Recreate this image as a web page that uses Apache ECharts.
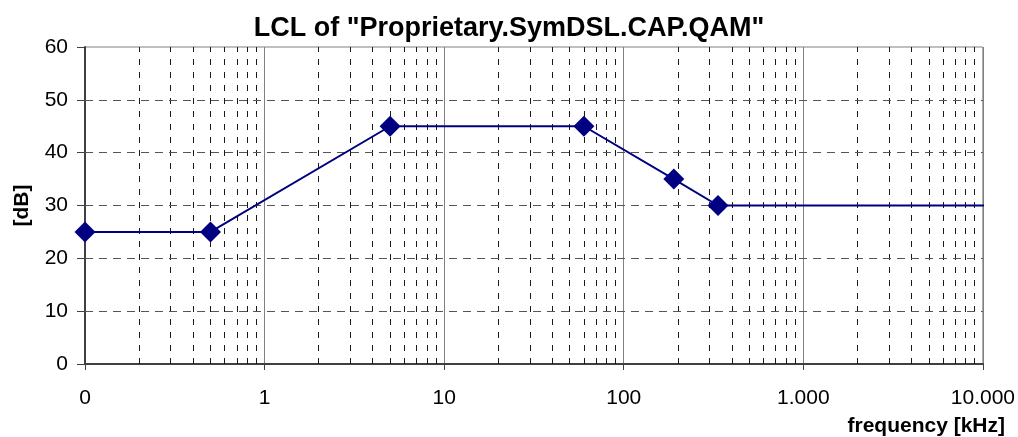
<!DOCTYPE html>
<html>
<head>
<meta charset="utf-8">
<script src="https://cdn.jsdelivr.net/npm/echarts@6/dist/echarts.min.js"></script>
<style>
  html, body { margin: 0; padding: 0; background: #fff; }
  #chart { width: 1018px; height: 437px; }
</style>
</head>
<body>
<div id="chart"></div>
<script>
// LCL curve, frequency in kHz (log axis), level in dB
const freq = [0.1, 0.5, 5, 60, 190, 335, 11500];
const lcl = [25, 25, 45, 45, 35, 30, 30];
const xTickLabels = ['0', '1', '10', '100', '1.000', '10.000'];
const yGridValues = [10, 20, 30, 40, 50];

const font = 'Liberation Sans, Arial, sans-serif';

// dashed minor gridlines at 2..9 of each decade
const minorLines = [];
for (let d = -1; d <= 3; d++) {
  for (let m = 2; m <= 9; m++) {
    minorLines.push({
      xAxis: m * Math.pow(10, d),
      lineStyle: { color: '#1a1a1a', type: [6, 7], width: 1 }
    });
  }
}
yGridValues.forEach(function (v) {
  minorLines.push({
    yAxis: v,
    lineStyle: { color: '#555', type: [8, 6], width: 1 }
  });
});

const seriesData = freq.map(function (f, i) {
  const item = { value: [f, lcl[i]] };
  if (i === freq.length - 1) item.symbol = 'none';
  return item;
});

const chart = echarts.init(document.getElementById('chart'), null, { renderer: 'canvas' });

const option = {
  animation: false,
  backgroundColor: '#fff',
  title: {
    text: 'LCL of "Proprietary.SymDSL.CAP.QAM"',
    left: 'center',
    top: 10,
    textStyle: { fontFamily: font, fontSize: 27, fontWeight: 'bold', color: '#000' }
  },
  grid: {
    left: 85,
    right: 35,
    top: 47,
    bottom: 73,
    show: true,
    borderColor: '#808080',
    borderWidth: 1
  },
  graphic: [
    {
      type: 'text',
      right: 13,
      top: 416,
      style: { text: 'frequency [kHz]', font: 'bold 21px ' + font, fill: '#000' }
    }
  ],
  xAxis: {
    type: 'log',
    logBase: 10,
    min: 0.1,
    max: 10000,
    axisLine: { lineStyle: { color: '#404040', width: 2 } },
    axisTick: { show: true, length: 6, lineStyle: { color: '#404040', width: 1 } },
    axisLabel: {
      fontFamily: font,
      fontSize: 21,
      color: '#000',
      margin: 24,
      formatter: function (v) {
        const idx = Math.round(Math.log10(v)) + 1;
        return xTickLabels[idx];
      }
    },
    splitLine: { show: true, lineStyle: { color: '#808080', width: 1, type: 'solid' } },
    minorTick: { show: false },
    minorSplitLine: { show: false }
  },
  yAxis: {
    type: 'value',
    min: 0,
    max: 60,
    interval: 10,
    name: '[dB]',
    nameLocation: 'middle',
    nameGap: 52,
    nameRotate: 90,
    nameTextStyle: { fontFamily: font, fontSize: 21, fontWeight: 'bold', color: '#000' },
    axisLine: { show: true, lineStyle: { color: '#404040', width: 2 } },
    axisTick: { show: true, length: 8, lineStyle: { color: '#404040', width: 1 } },
    axisLabel: { fontFamily: font, fontSize: 21, color: '#000', margin: 17 },
    splitLine: { show: false }
  },
  series: [
    {
      type: 'line',
      data: [],
      z: 1,
      silent: true,
      markLine: {
        silent: true,
        symbol: 'none',
        label: { show: false },
        animation: false,
        data: minorLines
      }
    },
    {
      type: 'line',
      z: 5,
      clip: false,
      data: seriesData,
      symbol: 'diamond',
      symbolSize: 21,
      lineStyle: { color: '#000080', width: 2 },
      itemStyle: { color: '#000080' }
    }
  ]
};

chart.setOption(option);
</script>
</body>
</html>
